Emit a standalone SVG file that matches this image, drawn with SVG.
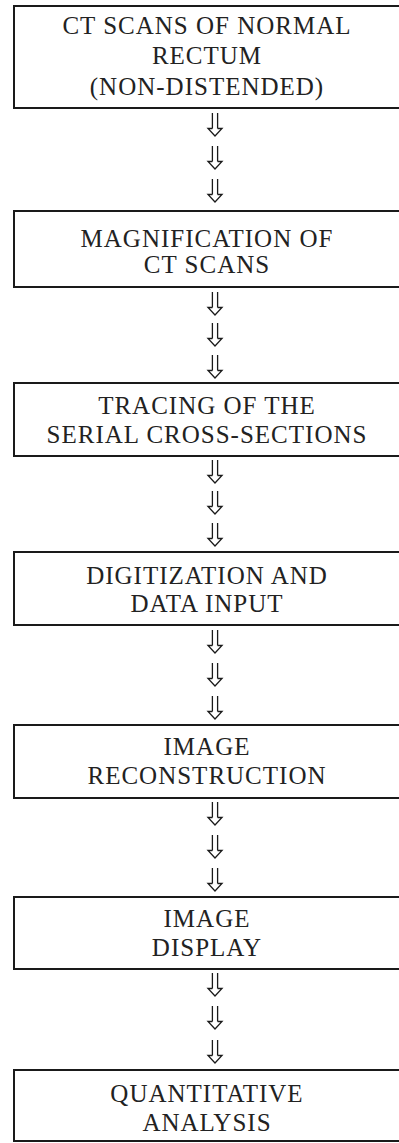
<svg xmlns="http://www.w3.org/2000/svg" width="399" height="1143" viewBox="0 0 399 1143">
<defs>
<style>
.box{fill:#fff;stroke:#1a1a1a;stroke-width:2}
.t{font-family:"Liberation Serif","Times New Roman",serif;font-size:25px;fill:#222;text-anchor:middle;letter-spacing:1px}
.ar{fill:none;stroke:#1a1a1a;stroke-width:1.3;stroke-linejoin:miter}
</style>
<g id="arrow">
<path class="ar" d="M-2.6,0 V15.5 M2.6,0 V15.5 M-2.6,15.5 H-7 L0,23 L7,15.5 H2.6"/>
</g>
</defs>
<rect width="399" height="1143" fill="#fff"/>
<g id="connectors">
<use href="#arrow" x="215" y="113"/><use href="#arrow" x="215" y="146"/><use href="#arrow" x="215" y="179"/>
<use href="#arrow" x="215" y="292"/><use href="#arrow" x="215" y="323"/><use href="#arrow" x="215" y="355"/>
<use href="#arrow" x="215" y="460"/><use href="#arrow" x="215" y="491"/><use href="#arrow" x="215" y="523"/>
<use href="#arrow" x="215" y="630"/><use href="#arrow" x="215" y="663"/><use href="#arrow" x="215" y="696"/>
<use href="#arrow" x="215" y="802"/><use href="#arrow" x="215" y="835"/><use href="#arrow" x="215" y="868"/>
<use href="#arrow" x="215" y="973"/><use href="#arrow" x="215" y="1006"/><use href="#arrow" x="215" y="1040"/>
</g>
<g id="n1"><rect class="box" x="14" y="6" width="392" height="102"/>
<text class="t" x="207" y="34">CT SCANS OF NORMAL</text><text class="t" x="207" y="64">RECTUM</text><text class="t" x="207" y="95">(NON-DISTENDED)</text></g>
<g id="n2"><rect class="box" x="14" y="211" width="392" height="76"/>
<text class="t" x="207" y="247">MAGNIFICATION OF</text><text class="t" x="207" y="273">CT SCANS</text></g>
<g id="n3"><rect class="box" x="14" y="383" width="392" height="73"/>
<text class="t" x="207" y="414">TRACING OF THE</text><text class="t" x="207" y="443">SERIAL CROSS-SECTIONS</text></g>
<g id="n4"><rect class="box" x="14" y="552" width="392" height="73"/>
<text class="t" x="207" y="584">DIGITIZATION AND</text><text class="t" x="207" y="612">DATA INPUT</text></g>
<g id="n5"><rect class="box" x="14" y="725" width="392" height="73"/>
<text class="t" x="207" y="755">IMAGE</text><text class="t" x="207" y="784">RECONSTRUCTION</text></g>
<g id="n6"><rect class="box" x="14" y="897" width="392" height="72"/>
<text class="t" x="207" y="927">IMAGE</text><text class="t" x="207" y="956">DISPLAY</text></g>
<g id="n7"><rect class="box" x="14" y="1070" width="392" height="71"/>
<text class="t" x="207" y="1102">QUANTITATIVE</text><text class="t" x="207" y="1131">ANALYSIS</text></g>
</svg>
